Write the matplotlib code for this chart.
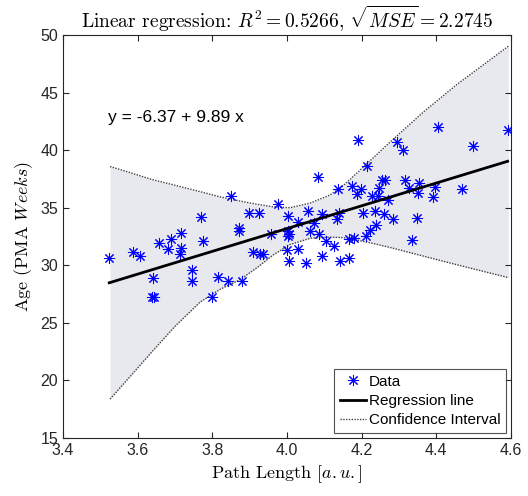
import numpy as np
import matplotlib.pyplot as plt

plt.rcParams['font.family'] = ['Liberation Sans', 'DejaVu Sans']
plt.rcParams['mathtext.fontset'] = 'cm'

# path length vs age samples
path_len = [3.524, 3.587, 3.606, 3.640, 3.639, 3.645, 3.658, 3.680, 3.689, 3.715,
            3.715, 3.713, 3.745, 3.746, 3.771, 3.776, 3.800, 3.816, 3.841, 3.850,
            3.871, 3.872, 3.880, 3.897, 3.910, 3.925, 3.929, 3.935, 3.956, 3.977,
            3.999, 4.004, 4.002, 4.004, 4.006, 4.006, 4.029, 4.030, 4.051, 4.057,
            4.062, 4.071, 4.082, 4.087, 4.093, 4.095, 4.105, 4.127, 4.133, 4.136,
            4.140, 4.142, 4.166, 4.165, 4.174, 4.180, 4.187, 4.191, 4.198, 4.203,
            4.214, 4.211, 4.221, 4.227, 4.236, 4.238, 4.243, 4.247, 4.254, 4.263,
            4.260, 4.271, 4.285, 4.294, 4.312, 4.316, 4.328, 4.334, 4.349, 4.350,
            4.354, 4.390, 4.397, 4.404, 4.468, 4.499, 4.591]
age = [30.67, 31.16, 30.82, 28.94, 27.29, 27.29, 31.97, 31.39, 32.26, 32.84,
       31.54, 30.96, 29.57, 28.65, 34.23, 32.12, 27.29, 29.00, 28.65, 36.02,
       33.27, 32.98, 28.65, 34.54, 31.16, 34.54, 30.96, 30.96, 32.69, 35.30,
       31.31, 34.28, 32.98, 32.55, 32.75, 30.38, 33.76, 31.39, 30.18, 34.72,
       32.98, 33.71, 37.67, 32.69, 30.82, 34.43, 32.12, 31.68, 34.05, 36.60,
       34.57, 30.38, 30.67, 32.26, 36.89, 32.41, 36.22, 40.87, 36.60, 34.57,
       38.62, 32.55, 33.07, 36.02, 34.72, 33.50, 36.02, 36.74, 37.41, 37.41,
       34.43, 35.67, 33.99, 40.70, 39.98, 37.41, 36.68, 32.20, 34.08, 36.25,
       37.17, 35.95, 36.80, 42.00, 36.65, 40.35, 41.74]

# fitted coefficients
b0, b1 = -6.37, 9.89

# confidence interval bounds
ci_x = [3.526, 3.580, 3.633, 3.700, 3.767, 3.820, 3.874, 3.920, 3.963, 4.008,
        4.062, 4.115, 4.150, 4.187, 4.230, 4.276, 4.365, 4.455, 4.593]
ci_hi = [38.58, 38.05, 37.50, 36.95, 36.40, 35.95, 35.58, 35.30, 35.08, 35.00,
         35.40, 36.10, 36.90, 38.00, 39.30, 40.70, 43.30, 45.70, 49.03]
ci_lo = [18.38, 20.35, 22.30, 24.70, 26.80, 27.90, 28.75, 29.80, 30.90, 31.80,
         32.35, 32.45, 32.40, 32.20, 31.90, 31.55, 30.80, 30.05, 28.93]

fig = plt.figure(figsize=(5.28, 4.96), dpi=100)
ax = fig.add_axes([0.1193, 0.1169, 0.8485, 0.8125])

ax.fill_between(ci_x, ci_lo, ci_hi, color='#e8e9ef', lw=0, zorder=1)
ax.plot(path_len, age, ls='none', marker=(8, 2, 0), ms=8, mew=0.75, color='#0000ff',
        label='Data', zorder=3)
xl = np.array([min(path_len), max(path_len)])
ax.plot(xl, b0 + b1 * xl, color='k', lw=2, label='Regression line', zorder=4)
ax.plot(ci_x, ci_hi, color='0.25', lw=1, ls=(0, (1, 1)), label='Confidence Interval', zorder=2)
ax.plot(ci_x, ci_lo, color='0.25', lw=1, ls=(0, (1, 1)), zorder=2)

ax.text(3.52, 42.8, 'y = -6.37 + 9.89 x', fontsize=12.5, va='center', ha='left')

ax.set_xlim(3.4, 4.6)
ax.set_ylim(15, 50)
ax.set_xticks(np.arange(3.4, 4.61, 0.2))
ax.set_yticks(np.arange(15, 51, 5))
ax.tick_params(direction='in', top=True, right=True, labelsize=11.5, colors='#262626', length=4)
for s in ax.spines.values():
    s.set_color('#262626')
    s.set_linewidth(0.8)

ax.set_title(r'Linear regression: $R^2 = 0.5266$, $\sqrt{MSE} = 2.2745$',
             fontsize=14, family='cmr10', pad=5)
ax.set_xlabel(r'Path Length $[a{.}u{.}]$', fontsize=13, family='cmr10')
ax.set_ylabel(r'Age (PMA $Weeks$)', fontsize=13, family='cmr10')

leg = ax.legend(loc='lower right', fontsize=11, frameon=True, fancybox=False,
                edgecolor='#262626', handlelength=1.7, borderpad=0.4,
                labelspacing=0.35, handletextpad=0.15, borderaxespad=0.3)
leg.get_frame().set_linewidth(0.8)

fig.savefig('out.png', dpi=100)
